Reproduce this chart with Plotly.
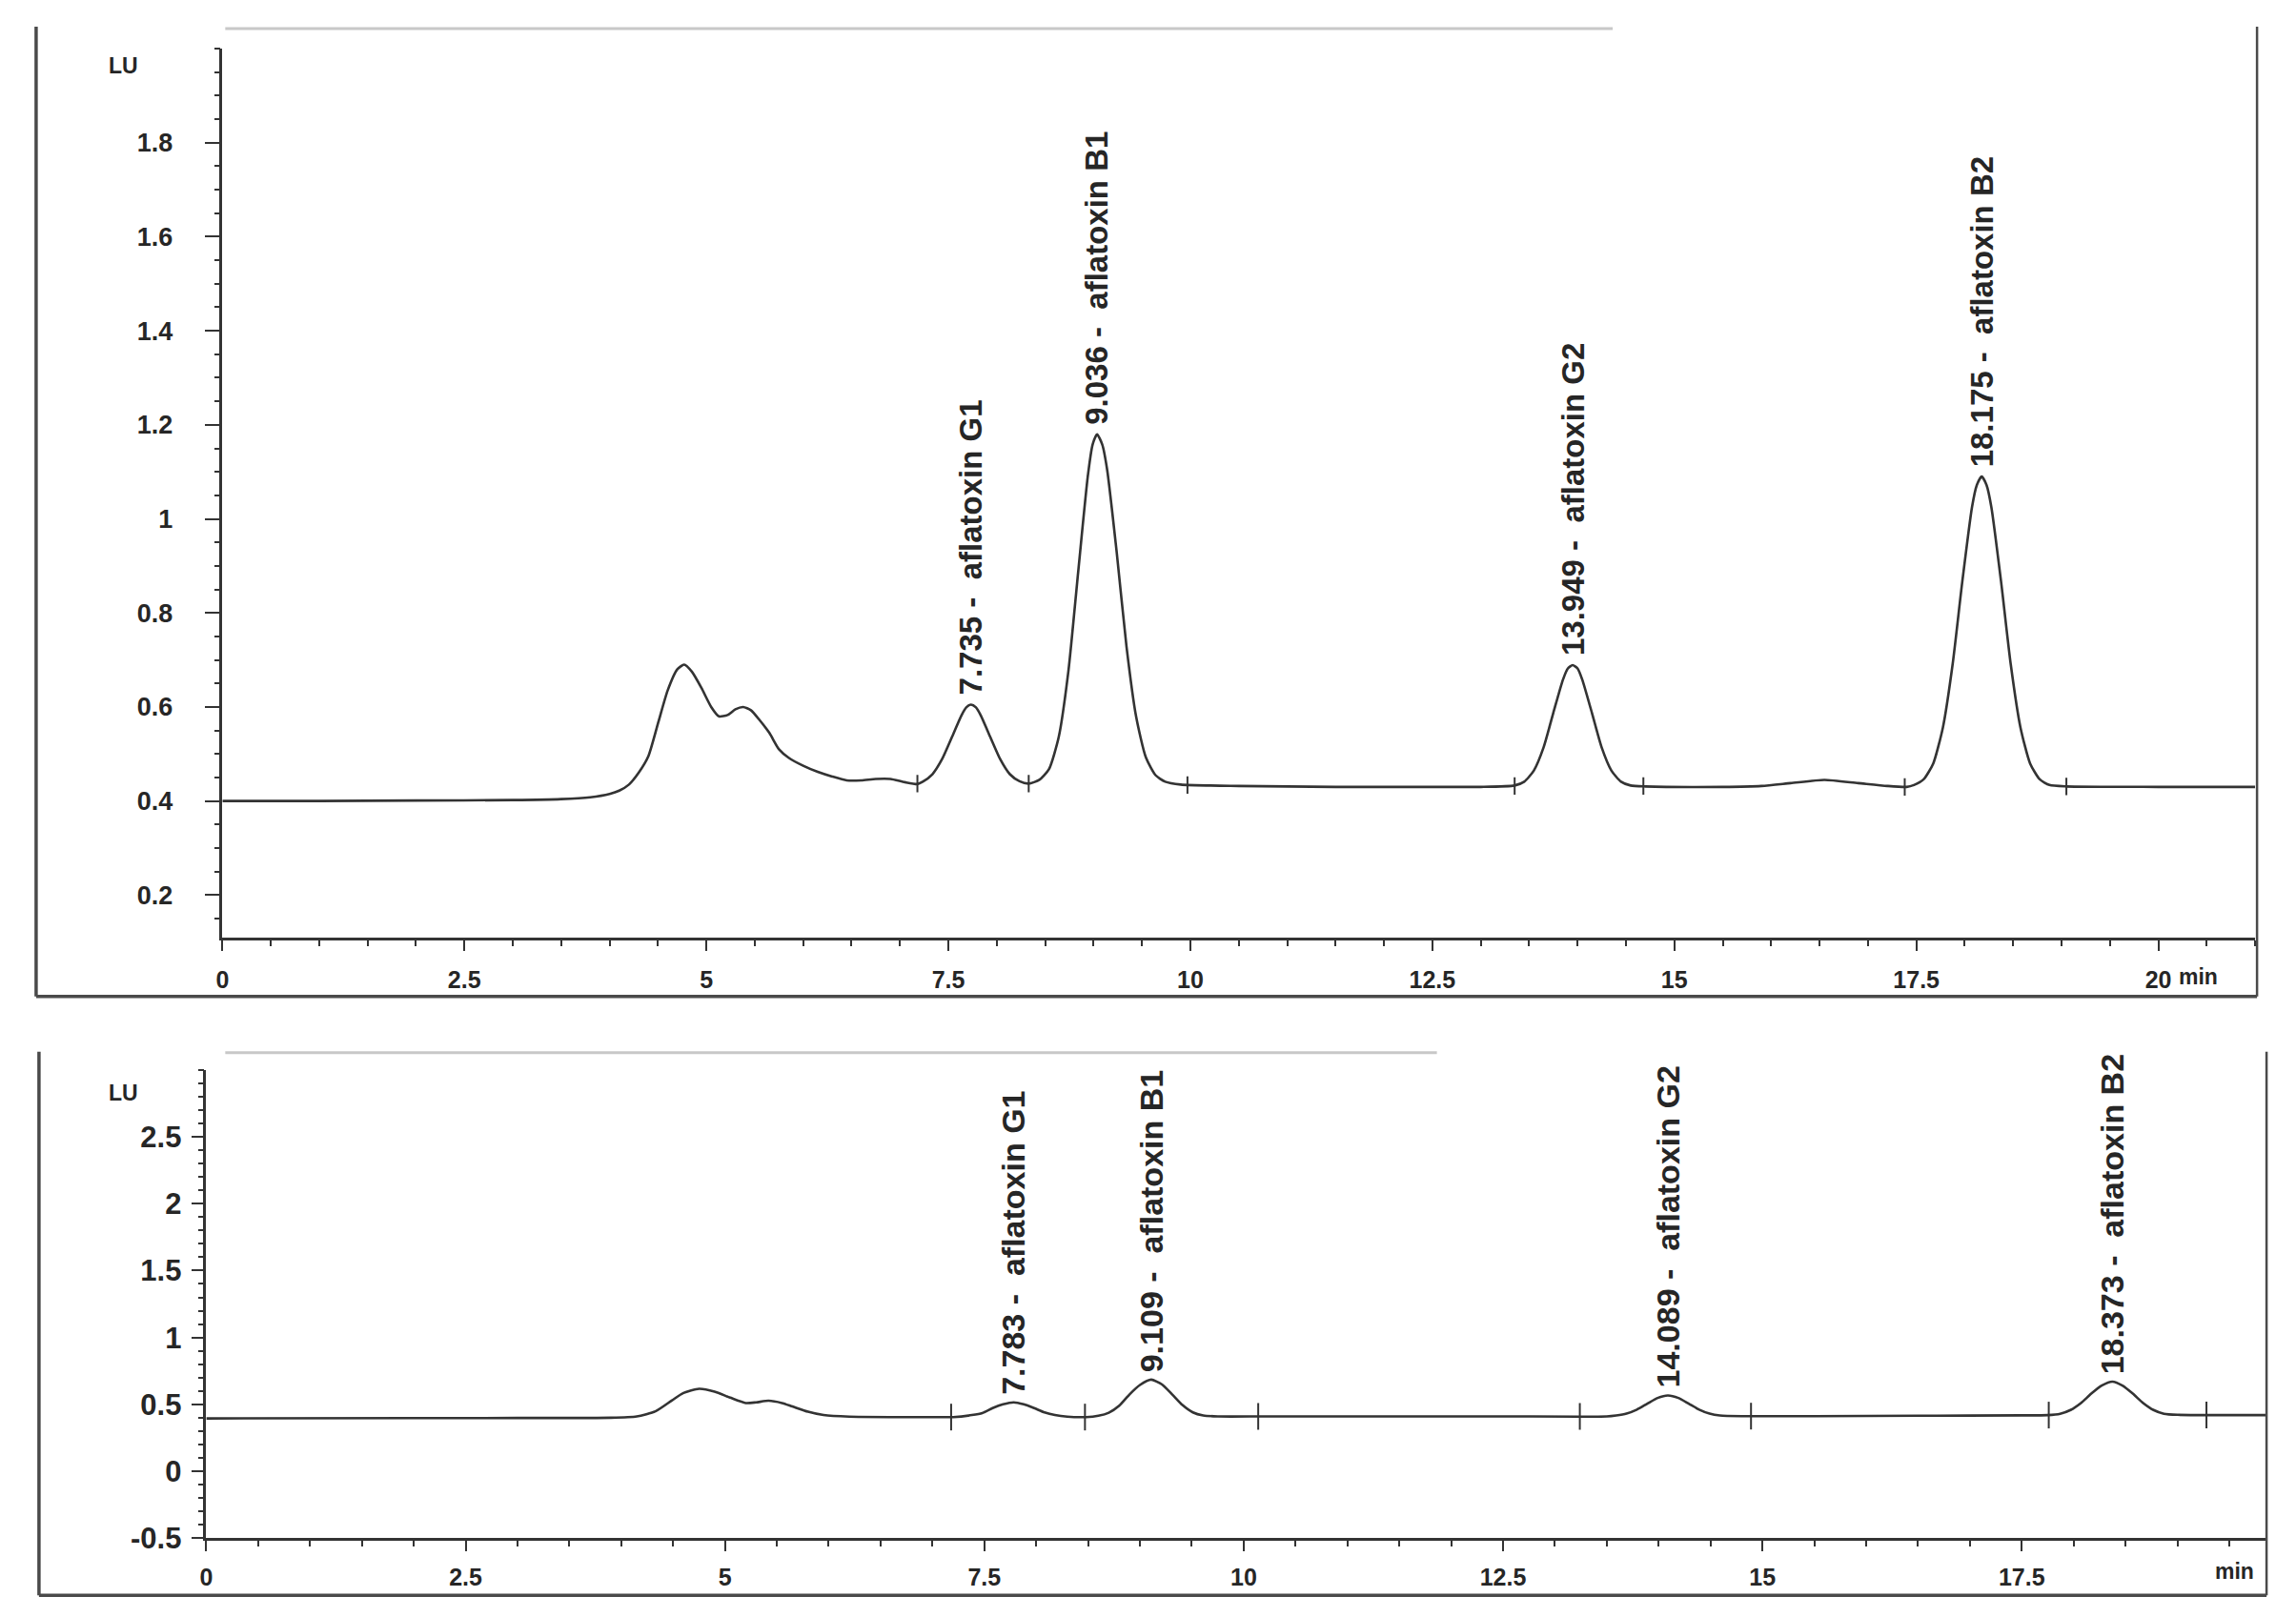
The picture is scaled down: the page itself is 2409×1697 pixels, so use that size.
import plotly.graph_objects as go

# ---------------- data ----------------
# Upper chromatogram (standard)
top_time = [0.0, 1.0, 2.0, 3.0, 3.5, 3.8, 4.0, 4.1, 4.2, 4.3, 4.4, 4.5, 4.6, 4.7, 4.77,
            4.85, 4.95, 5.05, 5.13, 5.22, 5.3, 5.38, 5.46, 5.55, 5.65, 5.75, 5.85, 6.0,
            6.15, 6.3, 6.45, 6.6, 6.75, 6.9, 7.05, 7.18,
            7.235, 7.335, 7.435, 7.535, 7.635, 7.685, 7.735, 7.785, 7.835, 7.935, 8.035, 8.135, 8.235, 8.33,
            8.44, 8.54, 8.64, 8.74, 8.84, 8.94, 8.99, 9.036, 9.09, 9.14, 9.24, 9.34, 9.44, 9.54, 9.64, 9.74, 9.9,
            10.5, 11.0, 11.5, 12.0, 12.5, 13.0,
            13.349, 13.449, 13.549, 13.649, 13.749, 13.849, 13.9, 13.949, 14.0, 14.049, 14.149, 14.249, 14.349, 14.449, 14.549, 14.7,
            15.5, 15.9, 16.2, 16.55, 16.9, 17.2, 17.4,
            17.475, 17.575, 17.675, 17.775, 17.875, 17.975, 18.075, 18.125, 18.175, 18.225,
            18.275, 18.375, 18.475, 18.575, 18.675, 18.775, 18.875, 19.05, 20.0, 21.0]
top_signal = [0.400, 0.400, 0.401, 0.402, 0.404, 0.408, 0.415, 0.422, 0.435, 0.460, 0.495, 0.565, 0.635, 0.680, 0.690,
              0.675, 0.640, 0.600, 0.580, 0.583, 0.595, 0.600, 0.593, 0.572, 0.545, 0.510, 0.492, 0.475,
              0.462, 0.452, 0.444, 0.444, 0.447, 0.447, 0.440, 0.436,
              0.441, 0.457, 0.489, 0.535, 0.582, 0.599, 0.605, 0.599, 0.582, 0.535, 0.489, 0.457, 0.442, 0.437,
              0.445, 0.468, 0.536, 0.676, 0.885, 1.090, 1.158, 1.180, 1.158, 1.105, 0.927, 0.729, 0.579, 0.493, 0.455, 0.441, 0.435,
              0.432, 0.431, 0.430, 0.430, 0.430, 0.430,
              0.433, 0.441, 0.465, 0.514, 0.587, 0.658, 0.682, 0.689, 0.682, 0.658, 0.587, 0.514, 0.465, 0.441, 0.433, 0.431,
              0.430, 0.432, 0.438, 0.445, 0.438, 0.432, 0.430,
              0.434, 0.446, 0.480, 0.557, 0.691, 0.867, 1.025, 1.072, 1.090, 1.072,
              1.025, 0.867, 0.691, 0.557, 0.480, 0.446, 0.434, 0.431, 0.430, 0.430]
top_marks = [7.18, 8.33, 9.97, 13.35, 14.68, 17.38, 19.05]
top_mark_levels = [0.437, 0.437, 0.434, 0.432, 0.432, 0.430, 0.431]
top_peak_times = [7.735, 9.036, 13.949, 18.175]
top_peak_heights = [0.605, 1.180, 0.689, 1.090]
top_peak_labels = ["7.735 -  aflatoxin G1", "9.036 -  aflatoxin B1",
                   "13.949 -  aflatoxin G2", "18.175 -  aflatoxin B2"]
top_xticks = [0, 2.5, 5, 7.5, 10, 12.5, 15, 17.5, 20]
top_xtick_text = ["0", "2.5", "5", "7.5", "10", "12.5", "15", "17.5", "20"]
top_yticks = [0.2, 0.4, 0.6, 0.8, 1.0, 1.2, 1.4, 1.6, 1.8]
top_ytick_text = ["0.2", "0.4", "0.6", "0.8", "1", "1.2", "1.4", "1.6", "1.8"]

# Lower chromatogram (sample)
bot_time = [0.0, 2.0, 3.0, 3.9, 4.15, 4.33, 4.49, 4.6, 4.75, 4.9, 5.05, 5.2, 5.3, 5.42, 5.55,
            5.65, 5.8, 5.95, 6.2, 6.6, 7.0, 7.2,
            7.38, 7.48, 7.58, 7.68, 7.783, 7.88, 7.98, 8.08, 8.18, 8.3, 8.48,
            8.6, 8.7, 8.8, 8.9, 9.0, 9.109, 9.21, 9.31, 9.41, 9.51, 9.61, 9.75, 10.2,
            11.5, 12.5, 13.5,
            13.59, 13.69, 13.79, 13.89, 13.99, 14.089, 14.19, 14.29, 14.39, 14.49, 14.59, 14.8,
            15.5, 16.5, 17.5, 17.75,
            17.87, 17.97, 18.07, 18.17, 18.27, 18.373, 18.47, 18.57, 18.67, 18.77, 18.87, 19.0, 19.85]
bot_signal = [0.395, 0.397, 0.398, 0.400, 0.410, 0.448, 0.530, 0.585, 0.616, 0.595, 0.550, 0.510, 0.515, 0.527, 0.510,
              0.484, 0.445, 0.420, 0.408, 0.405, 0.405, 0.405,
              0.420, 0.435, 0.472, 0.500, 0.515, 0.500, 0.472, 0.440, 0.420, 0.408, 0.405,
              0.415, 0.438, 0.490, 0.575, 0.645, 0.685, 0.650, 0.575, 0.495, 0.440, 0.417, 0.410, 0.410,
              0.410, 0.410, 0.410,
              0.417, 0.431, 0.461, 0.505, 0.548, 0.567, 0.548, 0.505, 0.461, 0.431, 0.417, 0.412,
              0.412, 0.415, 0.418, 0.420,
              0.430, 0.458, 0.510, 0.580, 0.640, 0.670, 0.640, 0.580, 0.510, 0.458, 0.430, 0.422, 0.420]
bot_marks = [7.18, 8.47, 10.14, 13.24, 14.89, 17.76, 19.28]
bot_mark_levels = [0.405, 0.405, 0.410, 0.410, 0.412, 0.420, 0.421]
bot_peak_times = [7.783, 9.109, 14.089, 18.373]
bot_peak_heights = [0.515, 0.685, 0.567, 0.670]
bot_peak_labels = ["7.783 -  aflatoxin G1", "9.109 -  aflatoxin B1",
                   "14.089 -  aflatoxin G2", "18.373 -  aflatoxin B2"]
bot_xticks = [0, 2.5, 5, 7.5, 10, 12.5, 15, 17.5]
bot_xtick_text = ["0", "2.5", "5", "7.5", "10", "12.5", "15", "17.5"]
bot_yticks = [-0.5, 0, 0.5, 1, 1.5, 2, 2.5]
bot_ytick_text = ["-0.5", "0", "0.5", "1", "1.5", "2", "2.5"]

# ---------------- layout helpers ----------------
W, H = 2409, 1697
KY = 1.0115  # vertical correction measured against the reference
def px(x):
    return x / W
def py(y):
    return 1 - (y * KY) / H

INK = "#262626"
LINE = "#333333"
FONT = "Liberation Sans, Arial, sans-serif"

fig = go.Figure()

fig.add_trace(go.Scatter(x=top_time, y=top_signal, mode="lines",
                         line=dict(color=LINE, width=2.6, shape="spline", smoothing=0.6),
                         xaxis="x", yaxis="y", hoverinfo="skip", showlegend=False))
fig.add_trace(go.Scatter(x=top_marks, y=top_mark_levels, mode="markers",
                         marker=dict(symbol="line-ns", size=13, line=dict(color=LINE, width=2)),
                         xaxis="x", yaxis="y", hoverinfo="skip", showlegend=False))
fig.add_trace(go.Scatter(x=bot_time, y=bot_signal, mode="lines",
                         line=dict(color=LINE, width=2.6, shape="spline", smoothing=0.6),
                         xaxis="x2", yaxis="y2", hoverinfo="skip", showlegend=False))
fig.add_trace(go.Scatter(x=bot_marks, y=bot_mark_levels, mode="markers",
                         marker=dict(symbol="line-ns", size=20, line=dict(color=LINE, width=2)),
                         xaxis="x2", yaxis="y2", hoverinfo="skip", showlegend=False))

def axis_style(size, ticklen, standoff):
    return dict(showline=True, linecolor=LINE, linewidth=2.5, ticks="outside", ticklen=ticklen, tickwidth=2,
                tickcolor=LINE, showgrid=False, zeroline=False, fixedrange=True,
                ticklabelstandoff=standoff,
                tickfont=dict(family=FONT, size=size, color=INK, weight="bold"))

def minor(d):
    return dict(dtick=d, tick0=0, ticklen=6, tickwidth=2, tickcolor=LINE, ticks="outside", showgrid=False)

fig.update_layout(
    width=W, height=H, margin=dict(l=0, r=0, t=0, b=0),
    paper_bgcolor="white", plot_bgcolor="white",
    xaxis=dict(domain=[px(227), px(2366)], range=[0, 21], anchor="y",
               tickvals=top_xticks, ticktext=top_xtick_text, minor=minor(0.5),
               **axis_style(25, 11, 9)),
    yaxis=dict(domain=[py(983), py(51)], range=[0.11, 2.0], anchor="x",
               tickvals=top_yticks, ticktext=top_ytick_text, minor=minor(0.05),
               **axis_style(27, 16, 28)),
    xaxis2=dict(domain=[px(210), px(2377)], range=[0, 19.85], anchor="y2",
                tickvals=bot_xticks, ticktext=bot_xtick_text, minor=minor(0.5),
                **axis_style(25, 11, 6)),
    yaxis2=dict(domain=[py(1613), py(1122)], range=[-0.5, 3.0], anchor="x2",
                tickvals=bot_yticks, ticktext=bot_ytick_text, minor=minor(0.1),
                **axis_style(31, 13, 4)),
)

annotations = []
for t, h, lab in zip(top_peak_times, top_peak_heights, top_peak_labels):
    annotations.append(dict(x=t, y=h, xref="x", yref="y", text=lab, showarrow=False, textangle=-90,
                            xanchor="center", yanchor="bottom", yshift=8,
                            font=dict(family=FONT, size=33, color=INK, weight="bold")))
for t, h, lab in zip(bot_peak_times, bot_peak_heights, bot_peak_labels):
    annotations.append(dict(x=t, y=h, xref="x2", yref="y2", text=lab, showarrow=False, textangle=-90,
                            xanchor="center", yanchor="bottom", yshift=6,
                            font=dict(family=FONT, size=34, color=INK, weight="bold")))
# axis unit labels
unit_font = dict(family=FONT, size=23, color=INK, weight="bold")
annotations += [
    dict(x=px(123), y=py(69), xref="paper", yref="paper", text="LU", showarrow=False,
         xanchor="center", yanchor="middle", font=unit_font),
    dict(x=px(123), y=py(1146), xref="paper", yref="paper", text="LU", showarrow=False,
         xanchor="center", yanchor="middle", font=unit_font),
    dict(x=px(2306), y=py(1024), xref="paper", yref="paper", text="min", showarrow=False,
         xanchor="center", yanchor="middle", font=unit_font),
    dict(x=px(2344), y=py(1648), xref="paper", yref="paper", text="min", showarrow=False,
         xanchor="center", yanchor="middle", font=unit_font),
]
fig.update_layout(annotations=annotations)

# outer frames of the two printouts
FR = "#4a4a4a"
shapes = []
for (x0, y0, x1, y1) in [(31, 28, 2368, 1045), (34, 1103, 2378, 1673)]:
    shapes.append(dict(type="line", xref="paper", yref="paper", x0=px(x0), y0=py(y0), x1=px(x0), y1=py(y1),
                       line=dict(color=FR, width=3.5)))
    shapes.append(dict(type="line", xref="paper", yref="paper", x0=px(x0), y0=py(y1), x1=px(x1), y1=py(y1),
                       line=dict(color=FR, width=3.5)))
    shapes.append(dict(type="line", xref="paper", yref="paper", x0=px(x1), y0=py(y0), x1=px(x1), y1=py(y1),
                       line=dict(color=FR, width=2.5)))
# faint remains of the cropped printout headers
for (x0, x1, y) in [(230, 1690, 30), (230, 1505, 1104)]:
    shapes.append(dict(type="line", xref="paper", yref="paper", x0=px(x0), y0=py(y), x1=px(x1), y1=py(y),
                       line=dict(color="#c8c8c8", width=3)))
fig.update_layout(shapes=shapes)

fig.write_html("out.html", config={"displayModeBar": False},
               post_script="document.body.style.margin='0';document.body.style.padding='0';")
